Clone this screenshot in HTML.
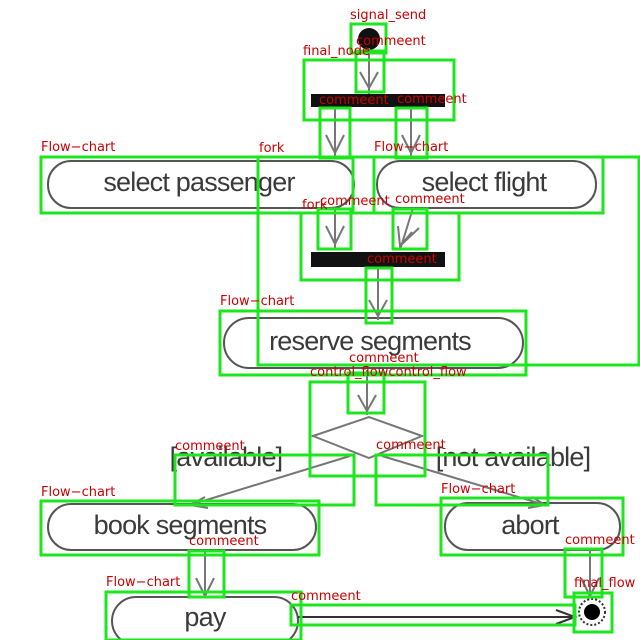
<!DOCTYPE html>
<html><head><meta charset="utf-8"><style>
html,body{margin:0;padding:0;background:#fff;width:640px;height:640px;overflow:hidden}
svg{display:block}
.g{fill:none;stroke:#1ee61e;stroke-width:3}
.r{fill:#cc0000;font-family:"DejaVu Sans","Liberation Sans",sans-serif;font-size:13px}
.p{fill:#fff;stroke:#555;stroke-width:2}
.t{fill:#3a3a3a;font-family:"Liberation Sans",sans-serif;font-size:27px;text-anchor:middle;letter-spacing:-0.8px}
.l{stroke:#777;stroke-width:2;fill:none}
</style></head><body>
<svg width="640" height="640" viewBox="0 0 640 640">
<!-- pills -->
<rect class="p" x="48" y="161" width="306" height="47" rx="23"/>
<rect class="p" x="377" y="161" width="219" height="47" rx="23"/>
<rect class="p" x="224" y="318" width="299" height="50" rx="25"/>
<rect class="p" x="48" y="504" width="268" height="46" rx="23"/>
<rect class="p" x="445" y="503" width="175" height="47" rx="23"/>
<rect class="p" x="112" y="597" width="186" height="48" rx="24" stroke="#999"/>
<text class="t" x="199" y="191">select passenger</text>
<text class="t" x="484" y="191">select flight</text>
<text class="t" x="370" y="350">reserve segments</text>
<text class="t" x="180" y="534">book segments</text>
<text class="t" x="530" y="534">abort</text>
<text class="t" x="205" y="626" fill="#777">pay</text>
<text class="t" x="226" y="466" fill="#555">[available]</text>
<text class="t" x="513" y="466" fill="#555">[not available]</text>
<!-- start / bars -->
<circle cx="369" cy="39" r="11" fill="#111"/>
<rect x="311" y="94" width="134" height="13" fill="#111"/>
<rect x="311" y="252" width="134" height="15" fill="#111"/>
<!-- connectors -->
<path class="l" d="M369 48V94M360 72l9 16 9-16"/>
<path class="l" d="M335 107V158M326 135l9 18 9-18"/>
<path class="l" d="M411 107V158M402 135l9 18 9-18"/>
<path class="l" d="M335 208V250M326 226l9 18 9-18"/>
<path class="l" d="M413 208L400 250M398 226l2 20 12-14M419 228l-19 18"/>
<path class="l" d="M378 267V320M369 300l9 16 9-16"/>
<path class="l" d="M367 370V415M358 395l9 16 9-16"/>
<path class="l" d="M313 436L369 417L422 436L369 458Z" stroke="#333"/>
<path class="l" d="M350 456L190 505M205 497l-15 8 18 3"/>
<path class="l" d="M382 456L545 505M532 497l13 8-17 3"/>
<path class="l" d="M205 550V598M196 578l9 18 9-18"/>
<path class="l" d="M590 550V598M581 578l9 18 9-18"/>
<path d="M298 617H575M556 610l19 7-19 7" stroke="#333" stroke-width="2" fill="none"/>
<circle cx="592" cy="612" r="13" fill="#fff" stroke="#333" stroke-width="2" stroke-dasharray="2 2"/>
<circle cx="592" cy="612" r="8" fill="#000"/>
<!-- green boxes -->
<rect class="g" x="351" y="24" width="35" height="29"/>
<rect class="g" x="356" y="51" width="28" height="41"/>
<rect class="g" x="304" y="60" width="150" height="60"/>
<rect class="g" x="320" y="108" width="30" height="50"/>
<rect class="g" x="396" y="108" width="31" height="50"/>
<rect class="g" x="41" y="157" width="312" height="56"/>
<rect class="g" x="258" y="157" width="381" height="208"/>
<rect class="g" x="374" y="157" width="229" height="56"/>
<rect class="g" x="318" y="209" width="33" height="40"/>
<rect class="g" x="393" y="209" width="34" height="40"/>
<rect class="g" x="301" y="213" width="158" height="67"/>
<rect class="g" x="366" y="268" width="26" height="55"/>
<rect class="g" x="220" y="311" width="306" height="64"/>
<rect class="g" x="348" y="373" width="36" height="40"/>
<rect class="g" x="310" y="382" width="115" height="94"/>
<rect class="g" x="175" y="455" width="179" height="50"/>
<rect class="g" x="376" y="455" width="172" height="50"/>
<rect class="g" x="41" y="501" width="278" height="54"/>
<rect class="g" x="441" y="498" width="182" height="57"/>
<rect class="g" x="189" y="551" width="35" height="46"/>
<rect class="g" x="565" y="549" width="37" height="48"/>
<rect class="g" x="106" y="592" width="195" height="48"/>
<rect class="g" x="291" y="605" width="284" height="20"/>
<rect class="g" x="574" y="593" width="38" height="39"/>
<!-- red labels -->
<text class="r" x="350" y="19">signal_send</text>
<text class="r" x="356" y="45">commeent</text>
<text class="r" x="303" y="55">final_node</text>
<text class="r" x="319" y="104">commeent</text>
<text class="r" x="397" y="103">commeent</text>
<text class="r" x="41" y="151">Flow−chart</text>
<text class="r" x="259" y="152">fork</text>
<text class="r" x="374" y="151">Flow−chart</text>
<text class="r" x="302" y="209">fork</text>
<text class="r" x="320" y="205">commeent</text>
<text class="r" x="395" y="203">commeent</text>
<text class="r" x="367" y="263">commeent</text>
<text class="r" x="220" y="305">Flow−chart</text>
<text class="r" x="349" y="362">commeent</text>
<text class="r" x="310" y="376">control_flowcontrol_flow</text>
<text class="r" x="175" y="450">commeent</text>
<text class="r" x="376" y="449">commeent</text>
<text class="r" x="41" y="496">Flow−chart</text>
<text class="r" x="441" y="493">Flow−chart</text>
<text class="r" x="189" y="545">commeent</text>
<text class="r" x="565" y="544">commeent</text>
<text class="r" x="106" y="586">Flow−chart</text>
<text class="r" x="291" y="600">commeent</text>
<text class="r" x="574" y="587">final_flow</text>
</svg>
</body></html>
